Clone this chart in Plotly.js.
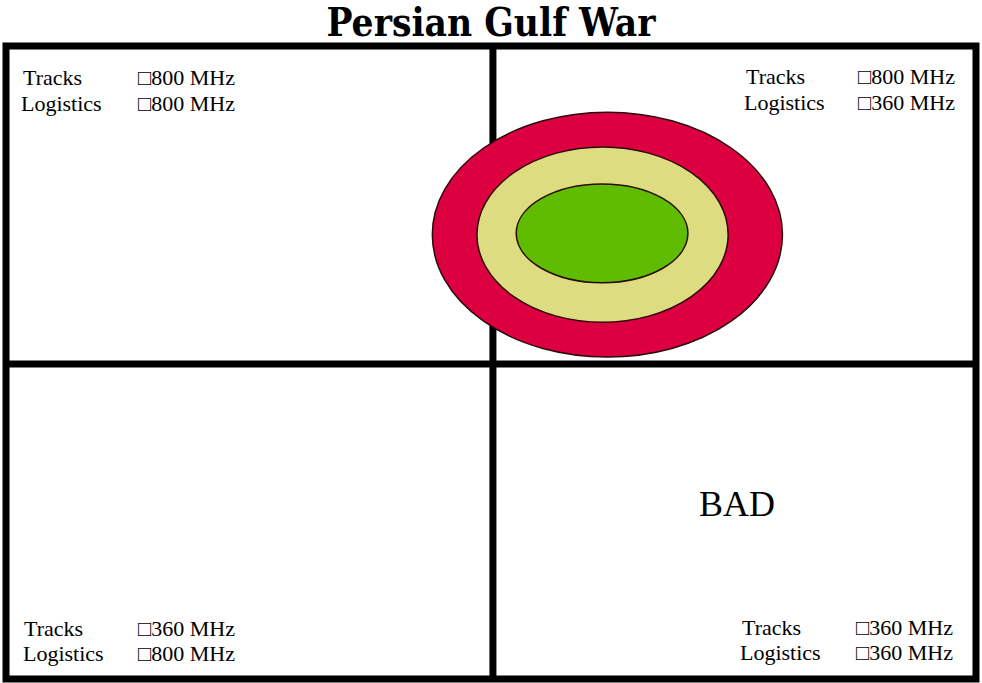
<!DOCTYPE html>
<html>
<head>
<meta charset="utf-8">
<script src="https://cdn.plot.ly/plotly-3.0.1.min.js"></script>
<style>html,body{margin:0;padding:0;background:#fff;}#chart{width:982px;height:683px;}</style>
</head>
<body>
<div id="chart"></div>
<script>
// ---- data ----
const quadrants = ["top-left", "top-right", "bottom-left", "bottom-right"];
const rowLabels = ["Tracks", "Logistics"];
const tracksBand = ["\u25A1800 MHz", "\u25A1800 MHz", "\u25A1360 MHz", "\u25A1360 MHz"];
const logisticsBand = ["\u25A1800 MHz", "\u25A1360 MHz", "\u25A1800 MHz", "\u25A1360 MHz"];
const verdict = ["", "", "", "BAD"];

// operating zone rings (quadrant units: 0..2 across, 0..2 down)
const zoneNames = ["outer", "middle", "inner"];
const zoneCx = [1.240, 1.230, 1.229];
const zoneCy = [0.596, 0.596, 0.592];
const zoneRx = [0.361, 0.259, 0.177];
const zoneRy = [0.387, 0.277, 0.156];
const zoneColors = ["#DC0040", "#DEDC80", "#60BC00"];

const title = "Persian Gulf War";

// ---- layout ----
const shapes = [];
shapes.push({type: "rect", xref: "x", yref: "y", x0: 0, x1: 2, y0: 0, y1: 2,
  line: {color: "#000", width: 7}, fillcolor: "rgba(0,0,0,0)"});
shapes.push({type: "line", xref: "x", yref: "y", x0: 1.004, x1: 1.004, y0: 0, y1: 2,
  line: {color: "#000", width: 7}});
shapes.push({type: "line", xref: "x", yref: "y", x0: 0, x1: 2, y0: 1.005, y1: 1.005,
  line: {color: "#000", width: 7}});
zoneNames.forEach((z, i) => {
  shapes.push({type: "circle", xref: "x", yref: "y",
    x0: zoneCx[i] - zoneRx[i], x1: zoneCx[i] + zoneRx[i],
    y0: zoneCy[i] - zoneRy[i], y1: zoneCy[i] + zoneRy[i],
    fillcolor: zoneColors[i], line: {color: "#2a0a0a", width: 1.5}});
});

const serif = "Liberation Serif";
const font = {family: serif, size: 22, color: "#000"};
const annotations = [];
// label placement inside each quadrant (label column / value column / rows)
const labelX = [[0.030, 0.268], [1.521, 1.753], [0.034, 0.268], [1.513, 1.749]];
const labelY = [[0.098, 0.183], [0.095, 0.180], [1.839, 1.921], [1.836, 1.915]];
quadrants.forEach((q, i) => {
  const vals = [tracksBand[i], logisticsBand[i]];
  rowLabels.forEach((r, j) => {
    annotations.push({x: labelX[i][0] - (j === 1 ? 0.004 : 0), y: labelY[i][j], xref: "x", yref: "y",
      text: r, showarrow: false, xanchor: "left", yanchor: "middle", font: font});
    annotations.push({x: labelX[i][1], y: labelY[i][j], xref: "x", yref: "y",
      text: vals[j], showarrow: false, xanchor: "left", yanchor: "middle", font: font});
  });
  if (verdict[i]) {
    annotations.push({x: 1.507, y: 1.447, xref: "x", yref: "y", text: verdict[i],
      showarrow: false, xanchor: "center", yanchor: "middle",
      font: {family: serif, size: 36, color: "#000"}});
  }
});

const layout = {
  width: 982, height: 683,
  margin: {l: 0, r: 0, t: 0, b: 0, pad: 0},
  paper_bgcolor: "#fff", plot_bgcolor: "#fff",
  title: {text: title, x: 0.5, xanchor: "center", y: 0.967, yanchor: "middle",
    yref: "container", font: {family: "DejaVu Serif Condensed, DejaVu Serif", size: 38.5, weight: "bold", color: "#000"}},
  xaxis: {range: [-0.01237, 2.0124], visible: false, fixedrange: true},
  yaxis: {range: [2.0127, -0.1453], visible: false, fixedrange: true},
  shapes: shapes,
  annotations: annotations,
  showlegend: false
};

Plotly.newPlot("chart", [{x: [], y: [], type: "scatter", mode: "markers", hoverinfo: "skip"}], layout,
  {staticPlot: true, displayModeBar: false});
</script>
</body>
</html>
